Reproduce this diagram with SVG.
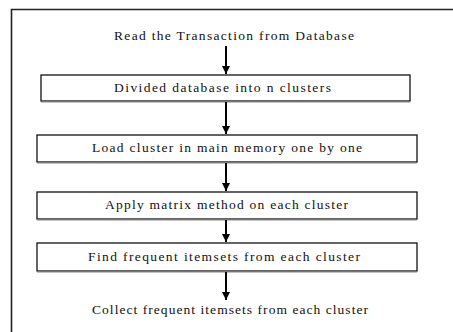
<svg xmlns="http://www.w3.org/2000/svg" width="453" height="332" viewBox="0 0 453 332">
  <style>
    text { font-family: "Liberation Serif", "Times New Roman", "DejaVu Serif", serif; font-size: 13.5px; fill: #111; }
    .box { fill: #fff; stroke: #111; stroke-width: 1.3; }
    .shadow { stroke: #888; stroke-width: 1.2; }
    .arrow { stroke: #000; stroke-width: 2; fill: none; marker-end: url(#head); }
  </style>
  <defs>
    <marker id="head" viewBox="0 0 8 8" refX="8" refY="4" markerWidth="4" markerHeight="4" markerUnits="strokeWidth" orient="auto">
      <path d="M0,0 L8,4 L0,8 Z" fill="#000"/>
    </marker>
  </defs>
  <rect width="453" height="332" fill="#fff"/>
  <!-- outer frame, open to the right and bottom -->
  <path d="M11.5,340 V9.5 H460" fill="none" stroke="#222" stroke-width="1.6"/>

  <g id="start">
    <text x="114" y="40" textLength="240" lengthAdjust="spacing">Read the Transaction from Database</text>
  </g>
  <g id="divide">
    <rect class="box" x="41" y="75" width="369" height="26"/>
    <line class="shadow" x1="41" y1="102" x2="410" y2="102"/>
    <text x="114" y="92" textLength="217" lengthAdjust="spacing">Divided database into n clusters</text>
  </g>
  <g id="load">
    <rect class="box" x="37" y="135" width="380" height="27"/>
    <line class="shadow" x1="37" y1="163" x2="417" y2="163"/>
    <text x="92" y="152" textLength="270" lengthAdjust="spacing">Load cluster in main memory one by one</text>
  </g>
  <g id="apply">
    <rect class="box" x="37" y="192" width="380" height="27"/>
    <line class="shadow" x1="37" y1="220" x2="417" y2="220"/>
    <text x="105" y="209" textLength="243" lengthAdjust="spacing">Apply matrix method on each cluster</text>
  </g>
  <g id="find">
    <rect class="box" x="37" y="243" width="380" height="28"/>
    <line class="shadow" x1="37" y1="272" x2="417" y2="272"/>
    <text x="88" y="261" textLength="272" lengthAdjust="spacing">Find frequent itemsets from each cluster</text>
  </g>
  <g id="collect">
    <text x="92" y="314" textLength="276" lengthAdjust="spacing">Collect frequent itemsets from each cluster</text>
  </g>

  <g id="connectors">
    <line class="arrow" x1="226" y1="46" x2="226" y2="74"/>
    <line class="arrow" x1="226" y1="102" x2="226" y2="134"/>
    <line class="arrow" x1="226" y1="163" x2="226" y2="191"/>
    <line class="arrow" x1="226" y1="220" x2="226" y2="242"/>
    <line class="arrow" x1="226" y1="272" x2="226" y2="300"/>
  </g>
</svg>
